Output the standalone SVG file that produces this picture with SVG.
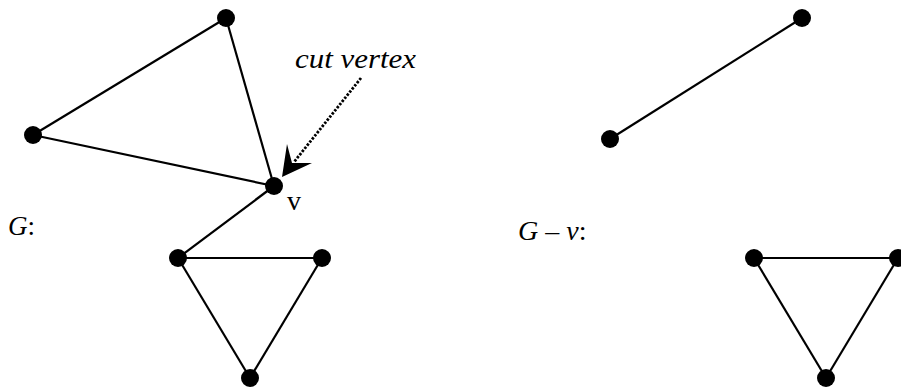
<svg xmlns="http://www.w3.org/2000/svg" width="901" height="387" viewBox="0 0 901 387">
<style>
.e{stroke:#000;stroke-width:2.2;fill:none}
.n{fill:#000}
.t{font-family:"Liberation Serif",serif;fill:#000}
.i{font-style:italic}
</style>
<rect width="901" height="387" fill="#fff"/>
<g id="edges">
<line class="e" x1="226" y1="18" x2="33" y2="135"/>
<line class="e" x1="226" y1="18" x2="274" y2="186"/>
<line class="e" x1="33" y1="135" x2="274" y2="186"/>
<line class="e" x1="274" y1="186" x2="178" y2="258"/>
<line class="e" x1="178" y1="258" x2="322" y2="258"/>
<line class="e" x1="178" y1="258" x2="250" y2="378"/>
<line class="e" x1="322" y1="258" x2="250" y2="378"/>
<line class="e" x1="802" y1="18" x2="610" y2="139"/>
<line class="e" x1="754" y1="258" x2="898" y2="258"/>
<line class="e" x1="754" y1="258" x2="826" y2="378"/>
<line class="e" x1="898" y1="258" x2="826" y2="378"/>
<line x1="361" y1="78" x2="294" y2="162" stroke="#000" stroke-width="2.8" stroke-dasharray="2.5,1.5"/>
<polygon points="282,177 287,144 292,163 312,163" fill="#000"/>
</g>
<g id="n1"><circle class="n" cx="226" cy="18" r="9"/></g>
<g id="n2"><circle class="n" cx="33" cy="135" r="9"/></g>
<g id="v"><circle class="n" cx="274" cy="186" r="9"/><text class="t" x="287" y="210" font-size="28">v</text></g>
<g id="n4"><circle class="n" cx="178" cy="258" r="9"/></g>
<g id="n5"><circle class="n" cx="322" cy="258" r="9"/></g>
<g id="n6"><circle class="n" cx="250" cy="378" r="9"/></g>
<g id="m1"><circle class="n" cx="802" cy="18" r="9"/></g>
<g id="m2"><circle class="n" cx="610" cy="139" r="9"/></g>
<g id="m4"><circle class="n" cx="754" cy="258" r="9"/></g>
<g id="m5"><circle class="n" cx="898" cy="258" r="9"/></g>
<g id="m6"><circle class="n" cx="826" cy="378" r="9"/></g>
<g id="labels">
<text class="t i" x="295" y="68" font-size="28" textLength="121" lengthAdjust="spacingAndGlyphs">cut vertex</text>
<text class="t" x="8" y="235" font-size="27"><tspan class="i">G</tspan>:</text>
<text class="t" x="518" y="240" font-size="28"><tspan class="i">G</tspan> – <tspan class="i">v</tspan>:</text>
</g>
</svg>
